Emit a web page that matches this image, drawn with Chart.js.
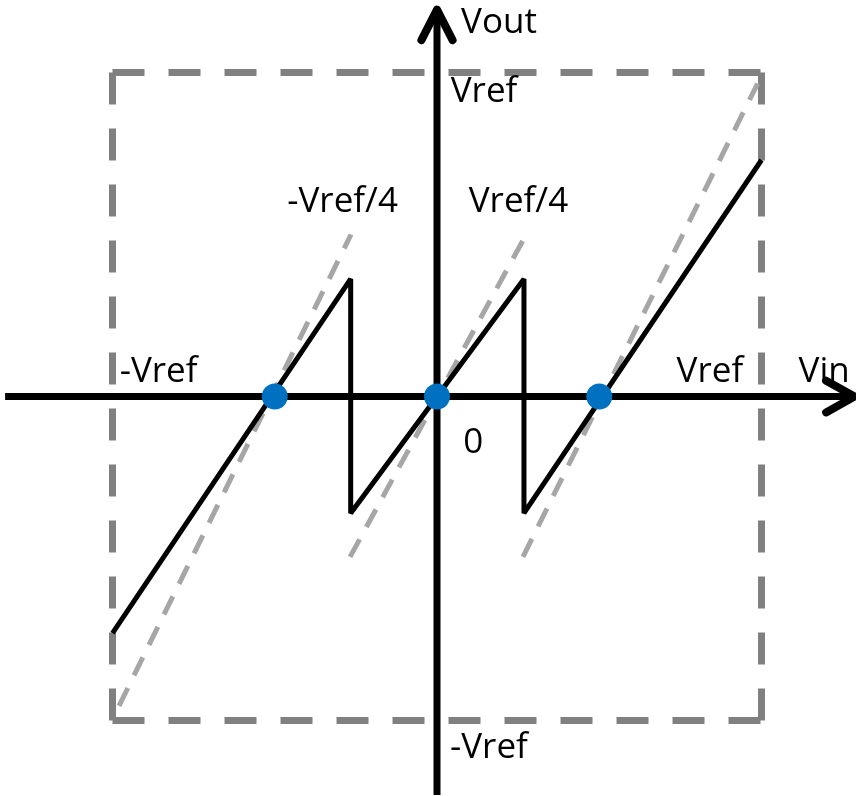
<!DOCTYPE html>
<html>
<head>
<meta charset="utf-8">
<script src="https://cdn.jsdelivr.net/npm/chart.js@4/dist/chart.umd.min.js"></script>
<style>
  html, body { margin: 0; padding: 0; background: #ffffff; }
  #wrap { width: 856px; height: 796px; }
</style>
</head>
<body>
<div id="wrap"><canvas id="c" width="856" height="796"></canvas></div>
<script>
// 1.5-bit residue transfer curve, values in units of Vref.

// Full-scale window (±Vref)
const boxX = [-1, 1, null, -1, -1, null, -1, 1, null, 1, 1];
const boxY = [1, 1, null, 1, -1, null, -1, -1, null, 1, -1];

// Ideal residue (gain 2), three sub-ranges
const idealX = [-0.98, -0.265, null, -0.268, 0.265, null, 0.265, 0.988];
const idealY = [-0.955, 0.5, null, -0.495, 0.482, null, -0.495, 0.966];

// Actual residue
const residueX = [-1, -0.266, -0.266, 0.268, 0.268, 1];
const residueY = [-0.73, 0.363, -0.36, 0.363, -0.36, 0.73];

// Zero crossings
const crossX = [-0.5, 0, 0.5];
const crossY = [0, 0, 0];

// Axes and arrow heads
const vinAxisX = [-1.331, 1.285];
const vinAxisY = [0, 0];
const voutAxisX = [0, 0];
const voutAxisY = [-1.23, 1.19];
const vinArrowX = [1.199, 1.287, 1.199];
const vinArrowY = [0.049, 0, -0.049];
const voutArrowX = [-0.048, 0, 0.048];
const voutArrowY = [1.1, 1.194, 1.1];

// Axis labels
const labelText = ['Vout', 'Vref', '-Vref/4', 'Vref/4', '-Vref', 'Vref', 'Vin', '0', '-Vref'];
const labelX = [0.191, 0.145, -0.291, 0.251, -0.858, 0.841, 1.193, 0.112, 0.16];
const labelY = [1.122, 0.909, 0.569, 0.569, 0.045, 0.045, 0.045, -0.174, -1.116];

const toPts = (xs, ys) => xs.map((x, i) => (x === null ? { x: null, y: null } : { x: x, y: ys[i] }));

const lineSet = (xs, ys, color, width, dash, extra) => Object.assign({
  data: toPts(xs, ys),
  showLine: true,
  spanGaps: false,
  borderColor: color,
  borderWidth: width,
  borderDash: dash || [],
  borderCapStyle: 'butt',
  borderJoinStyle: 'miter',
  pointRadius: 0,
  pointHoverRadius: 0,
  tension: 0,
  fill: false
}, extra || {});

const labelPlugin = {
  id: 'axisLabels',
  afterDatasetsDraw(chart) {
    const ctx = chart.ctx;
    const xs = chart.scales.x, ys = chart.scales.y;
    ctx.save();
    ctx.fillStyle = '#000000';
    ctx.font = '35px "Open Sans", "Noto Sans", sans-serif';
    ctx.textAlign = 'center';
    ctx.textBaseline = 'alphabetic';
    labelText.forEach((t, i) => {
      ctx.fillText(t, xs.getPixelForValue(labelX[i]), ys.getPixelForValue(labelY[i]));
    });
    ctx.restore();
  }
};

// Datasets listed top-most first (Chart.js paints the first dataset last)
new Chart(document.getElementById('c'), {
  type: 'scatter',
  data: {
    datasets: [
      {
        data: toPts(crossX, crossY),
        showLine: false,
        pointRadius: 13,
        pointHoverRadius: 13,
        pointBorderWidth: 0,
        pointBackgroundColor: '#0070c0',
        pointBorderColor: '#0070c0'
      },
      lineSet(residueX, residueY, '#000000', 5, [], { borderJoinStyle: 'bevel' }),
      lineSet(vinArrowX, vinArrowY, '#000000', 8, [], { borderCapStyle: 'round', borderJoinStyle: 'round' }),
      lineSet(voutArrowX, voutArrowY, '#000000', 8, [], { borderCapStyle: 'round', borderJoinStyle: 'round' }),
      lineSet(vinAxisX, vinAxisY, '#000000', 7),
      lineSet(voutAxisX, voutAxisY, '#000000', 7),
      lineSet(idealX, idealY, '#a6a6a6', 5, [20, 14]),
      lineSet(boxX, boxY, '#808080', 7, [32, 24])
    ]
  },
  options: {
    responsive: false,
    animation: false,
    events: [],
    layout: { padding: 0, autoPadding: false },
    plugins: { legend: { display: false }, tooltip: { enabled: false }, title: { display: false } },
    scales: {
      x: { type: 'linear', display: false, min: -1.3467, max: 1.2912 },
      y: { type: 'linear', display: false, min: -1.2330, max: 1.2238 }
    }
  },
  plugins: [labelPlugin]
});
</script>
</body>
</html>
